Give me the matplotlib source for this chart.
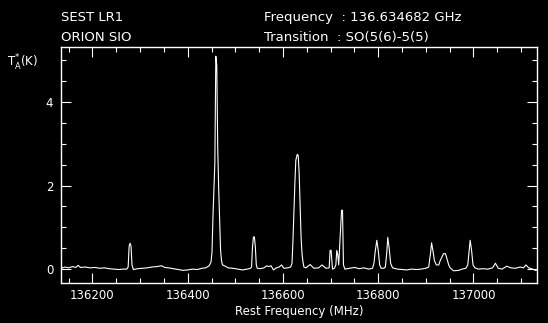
import matplotlib
matplotlib.use("Agg")
import matplotlib.pyplot as plt
from matplotlib.ticker import MultipleLocator

# Spectrum (rest frequency in MHz, antenna temperature in K)
freq_mhz = [
    136135, 136142, 136150, 136158, 136165, 136170, 136175, 136185, 136195, 136205,
    136215, 136225, 136235, 136245, 136255, 136265, 136272, 136275, 136277, 136279,
    136281, 136283, 136286, 136295, 136305, 136315, 136325, 136335, 136345, 136352,
    136360, 136370, 136380, 136390, 136400, 136410, 136420, 136430, 136438, 136445,
    136449, 136451, 136453, 136455, 136457, 136459, 136461, 136463, 136465, 136467,
    136469, 136471, 136473, 136477, 136485, 136495, 136505, 136515, 136525, 136532,
    136534, 136536, 136538, 136540, 136542, 136544, 136546, 136552, 136560, 136566,
    136570, 136575, 136580, 136586, 136592, 136597, 136602, 136610, 136616, 136619,
    136621, 136623, 136625, 136627, 136630, 136632, 136634, 136636, 136638, 136640,
    136642, 136644, 136648, 136657, 136665, 136675, 136682, 136690, 136697, 136699,
    136701, 136704, 136708, 136711, 136713, 136715, 136717, 136720, 136723, 136725,
    136727, 136730, 136740, 136750, 136760, 136770, 136780, 136788, 136791, 136794,
    136797, 136800, 136803, 136806, 136812, 136815, 136818, 136820, 136823, 136826,
    136830, 136840, 136850, 136860, 136870, 136880, 136890, 136900, 136906, 136910,
    136912, 136915, 136918, 136922, 136927, 136930, 136934, 136937, 136941, 136944,
    136948, 136951, 136958, 136969, 136976, 136984, 136988, 136991, 136993, 136996,
    136999, 137003, 137010, 137020, 137030, 137040, 137046, 137052, 137060, 137070,
    137078, 137088, 137098, 137105, 137110, 137116, 137122, 137130, 137134,
]
t_a = [
    0.02, 0.05, 0.03, 0.06, 0.04, 0.09, 0.04, 0.05, 0.03, 0.04,
    0.02, 0.03, 0.01, 0.00, -0.01, 0.00, 0.00, 0.05, 0.55, 0.62,
    0.55, 0.10, -0.01, 0.01, 0.02, 0.03, 0.05, 0.06, 0.08, 0.04,
    0.03, 0.01, -0.01, -0.03, -0.02, 0.00, -0.01, 0.02, 0.03, 0.08,
    0.17, 0.41, 1.25, 1.94, 2.55, 5.10, 4.89, 2.92, 1.94, 1.17,
    0.45, 0.20, 0.10, 0.08, 0.03, 0.02, 0.00, -0.02, 0.00, 0.02,
    0.05, 0.53, 0.77, 0.77, 0.53, 0.10, 0.02, 0.01, 0.03, 0.08,
    0.06, 0.08, -0.02, 0.03, 0.05, 0.10, 0.02, 0.03, 0.05, 0.14,
    0.69, 1.41, 2.05, 2.61, 2.75, 2.72, 2.29, 1.50, 0.77, 0.37,
    0.17, 0.05, 0.03, 0.11, 0.02, 0.03, 0.10, 0.02, 0.03, 0.45,
    0.45, 0.00, 0.02, 0.10, 0.45, 0.35, 0.10, 0.77, 1.41, 1.41,
    0.10, 0.00, 0.02, 0.04, 0.01, 0.03, 0.00, 0.02, 0.14, 0.45,
    0.69, 0.45, 0.10, 0.02, 0.02, 0.05, 0.40, 0.76, 0.50, 0.14,
    0.03, 0.00, -0.01, -0.02, 0.00, -0.01, 0.00, 0.02, 0.05, 0.40,
    0.63, 0.43, 0.20, 0.10, 0.10, 0.20, 0.30, 0.37, 0.37, 0.26,
    0.10, 0.03, -0.04, -0.03, 0.00, 0.02, 0.10, 0.45, 0.69, 0.45,
    0.10, 0.03, 0.00, 0.01, 0.00, 0.03, 0.14, 0.02, 0.00, 0.07,
    0.03, 0.02, 0.05, 0.03, 0.10, 0.03, 0.01, -0.03, -0.02,
]

x_ticks = [136200, 136400, 136600, 136800, 137000]
y_ticks = [0, 2, 4]

header_left = ["SEST LR1", "ORION SIO"]
header_right = ["Frequency  : 136.634682 GHz", "Transition  : SO(5(6)-5(5)"]

FG = "white"
BG = "black"

fig = plt.figure(figsize=(5.48, 3.23), dpi=100, facecolor=BG)
ax = fig.add_axes([0.1122, 0.1229, 0.8683, 0.7316], facecolor=BG)

ax.plot(freq_mhz, t_a, color=FG, linewidth=0.8)

ax.set_xlim(136135, 137134)
ax.set_ylim(-0.34, 5.32)
ax.set_xticks(x_ticks)
ax.set_yticks(y_ticks)
ax.xaxis.set_minor_locator(MultipleLocator(50))
ax.yaxis.set_minor_locator(MultipleLocator(0.5))
ax.tick_params(which="both", direction="in", colors=FG, top=True, right=True,
               labelsize=8.5, width=0.8)
ax.tick_params(which="major", length=7, pad=4)
ax.tick_params(axis="y", which="major", pad=6)
ax.tick_params(which="minor", length=3.5)
for spine in ax.spines.values():
    spine.set_color(FG)
    spine.set_linewidth(1.0)

ax.set_xlabel("Rest Frequency (MHz)", color=FG, fontsize=8.5, labelpad=2)

for i, line in enumerate(header_left):
    fig.text(0.112, 0.947 - i * 0.063, line, color=FG, fontsize=9.5, va="center")
for i, line in enumerate(header_right):
    fig.text(0.481, 0.947 - i * 0.063, line, color=FG, fontsize=9.5, va="center")
fig.text(0.012, 0.806, r"T$_{\mathrm{A}}^{*}$(K)", color=FG, fontsize=8.5, va="center")

fig.savefig("out.png", dpi=100, facecolor=BG)
